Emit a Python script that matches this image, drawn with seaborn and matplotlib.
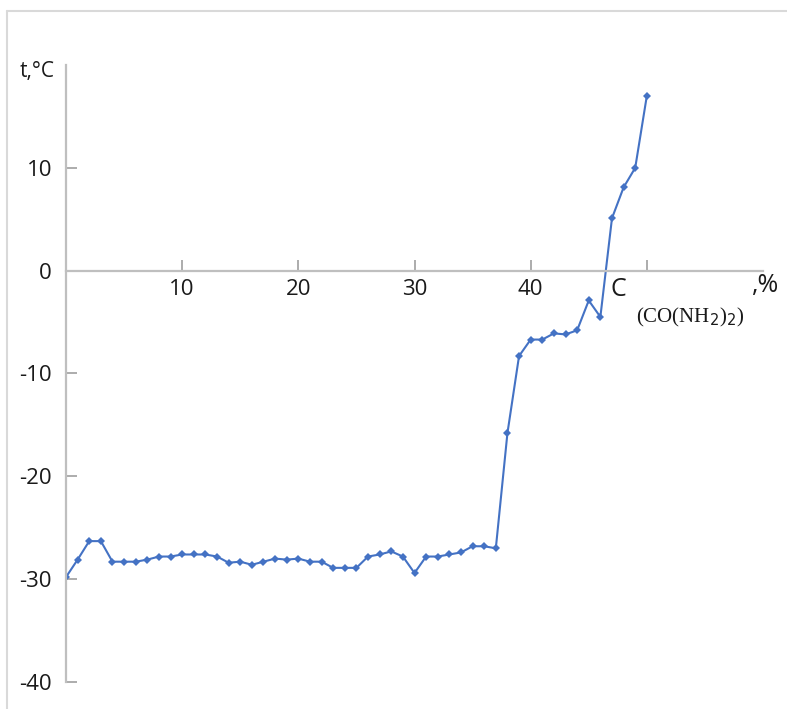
import matplotlib
matplotlib.use("Agg")
import matplotlib.pyplot as plt
from matplotlib.lines import Line2D
import pandas as pd
import seaborn as sns

# urea concentration, % (one reading per percent)
conc = list(range(0, 51))
temp = [-29.8, -28.1, -26.3, -26.3, -28.3, -28.3, -28.3, -28.1, -27.8, -27.8,
        -27.6, -27.6, -27.6, -27.8, -28.4, -28.3, -28.6, -28.3, -28.0, -28.1,
        -28.0, -28.3, -28.3, -28.9, -28.9, -28.9, -27.8, -27.6, -27.3, -27.8,
        -29.4, -27.8, -27.8, -27.6, -27.4, -26.8, -26.8, -27.0, -15.8, -8.3,
        -6.7, -6.7, -6.1, -6.2, -5.8, -2.9, -4.5, 5.1, 8.1, 10.0,
        17.0]
x_ticks = [10, 20, 30, 40, 50]
x_labels = ["10", "20", "30", "40", ""]
y_ticks = [-40, -30, -20, -10, 0, 10]

LINE = "#4472C4"
AXIS = "#bfbfbf"
TXT = "#1a1a1a"
W, H = 787, 709

df = pd.DataFrame({"c": conc, "t": temp})

sns.set_style("white")
plt.rcParams["font.family"] = ["Open Sans", "DejaVu Sans"]
plt.rcParams["axes.unicode_minus"] = False

fig = plt.figure(figsize=(W / 100, H / 100), dpi=100)
ax = fig.add_axes([66 / W, 1 - 682 / H, 697 / W, 617 / H])

sns.lineplot(data=df, x="c", y="t", ax=ax, color=LINE, lw=1.5,
             marker="D", markersize=4.5, markeredgewidth=0)

ax.set_xlim(0, 60)
ax.set_ylim(-40, 20)
ax.spines["top"].set_visible(False)
ax.spines["right"].set_visible(False)
ax.spines["left"].set_position(("data", 0))
ax.spines["bottom"].set_position(("data", 0))
for s in ("left", "bottom"):
    ax.spines[s].set_color(AXIS)
    ax.spines[s].set_linewidth(1.6)

ax.set_xticks(x_ticks)
ax.set_xticklabels(x_labels)
ax.set_yticks(y_ticks)
ax.tick_params(axis="both", direction="in", length=8, width=1.3, color="#a6a6a6",
               labelsize=16, labelcolor=TXT, bottom=True, left=True)
ax.tick_params(axis="x", pad=6)
ax.tick_params(axis="y", pad=10)
ax.set_xlabel("")
ax.set_ylabel("")

# axis titles
fig.text(20 / W, 1 - 72 / H, "t,°C", fontsize=15, color=TXT, va="center", ha="left")
fig.text(610 / W, 1 - 290 / H, "C", fontsize=18, color=TXT, va="center", ha="left")
fig.text(636 / W, 1 - 317 / H, "(CO(NH$_2$)$_2$)", fontsize=15, color=TXT,
         va="center", ha="left", family="Liberation Serif")
fig.text(752 / W, 1 - 285 / H, ",%", fontsize=18, color=TXT, va="center", ha="left")

# light frame lines (left and top)
fig.add_artist(Line2D([7 / W, 7 / W], [0, 1 - 11 / H], color="#d9d9d9", lw=1.5))
fig.add_artist(Line2D([7 / W, 1], [1 - 11 / H, 1 - 11 / H], color="#d9d9d9", lw=1.5))

fig.savefig("out.png", dpi=100)
